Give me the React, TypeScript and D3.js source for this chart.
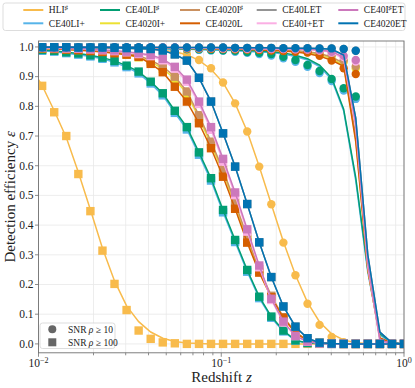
import React from 'react';
import * as d3 from 'd3';

// redshift grid of the simulated bins (markers)
const zGrid = [0.01047, 0.01219, 0.01419, 0.01652, 0.01923, 0.02239, 0.02606, 0.03034, 0.03532, 0.04111,
  0.04786, 0.05572, 0.06486, 0.07551, 0.0879, 0.1023, 0.1191, 0.1387, 0.1614, 0.1879,
  0.2188, 0.2547, 0.2965, 0.3451, 0.4018, 0.4677, 0.5445, 0.6339, 0.7379, 0.859, 1.0];
// fitted curves also start at the left edge
const zLine = [0.01, ...zGrid];

// HLI#
const hliSq = [0.869, 0.78, 0.70, 0.572, 0.447, 0.314, 0.202, 0.114, 0.045, 0.017, 0.005, 0.002,
  0, 0, 0, 0, 0, 0, 0, 0, 0, 0, 0, 0, 0, 0, 0, 0, 0, 0, 0];
const hliSqLine = [0.89, 0.87, 0.785, 0.695, 0.578, 0.452, 0.322, 0.212, 0.128, 0.075, 0.04, 0.019, 0.008,
  0.003, 0.001, 0, 0, 0, 0, 0, 0, 0, 0, 0, 0, 0, 0, 0, 0, 0, 0, 0];
const hliCi = [0.999, 0.999, 0.999, 0.998, 0.998, 0.998, 0.997, 0.996, 0.995, 0.993, 0.99, 0.985, 0.976,
  0.956, 0.928, 0.88, 0.81, 0.715, 0.597, 0.47, 0.341, 0.231, 0.135, 0.064, 0.023, 0.006, 0.001];
const hliCiLine = [0.999, 0.999, 0.999, 0.999, 0.998, 0.998, 0.998, 0.997, 0.996, 0.994, 0.992, 0.989, 0.984,
  0.974, 0.955, 0.925, 0.88, 0.81, 0.715, 0.597, 0.47, 0.344, 0.232, 0.14, 0.074, 0.034, 0.013, 0.004,
  0.001, 0, 0, 0];

// CE40LI+
const liPlusSq = [0.987, 0.984, 0.979, 0.974, 0.968, 0.96, 0.948, 0.932, 0.911, 0.877, 0.837, 0.778, 0.722,
  0.637, 0.55, 0.443, 0.343, 0.243, 0.154, 0.088, 0.042, 0.011, 0.003, 0.001, 0, 0, 0, 0, 0, 0, 0];
const liPlusCi = [0.997, 0.997, 0.997, 0.997, 0.996, 0.996, 0.996, 0.995, 0.995, 0.994, 0.994, 0.993, 0.992,
  0.99, 0.988, 0.987, 0.984, 0.98, 0.976, 0.971, 0.962, 0.95, 0.933, 0.912, 0.885, 0.853, 0.825];
const liPlusCiLine = [0.997, 0.997, 0.997, 0.997, 0.997, 0.996, 0.996, 0.996, 0.995, 0.995, 0.994, 0.994,
  0.993, 0.992, 0.991, 0.99, 0.989, 0.987, 0.985, 0.983, 0.981, 0.976, 0.968, 0.956, 0.934, 0.89, 0.784,
  0.55, 0.24, 0.03, 0.003, 0];

// CE40LI#
const liSharpSq = [0.99, 0.987, 0.982, 0.978, 0.972, 0.964, 0.953, 0.937, 0.917, 0.883, 0.844, 0.785, 0.73,
  0.645, 0.558, 0.451, 0.35, 0.249, 0.159, 0.092, 0.045, 0.012, 0.003, 0.001, 0, 0, 0, 0, 0, 0, 0];
const liSharpCi = [0.998, 0.998, 0.998, 0.998, 0.997, 0.997, 0.997, 0.996, 0.996, 0.995, 0.995, 0.994, 0.993,
  0.992, 0.99, 0.989, 0.987, 0.983, 0.98, 0.976, 0.967, 0.956, 0.939, 0.919, 0.892, 0.861, 0.833];
const liSharpCiLine = [0.998, 0.998, 0.998, 0.998, 0.998, 0.997, 0.997, 0.997, 0.996, 0.996, 0.995, 0.995,
  0.994, 0.993, 0.992, 0.991, 0.991, 0.99, 0.988, 0.986, 0.984, 0.98, 0.972, 0.96, 0.939, 0.896, 0.79,
  0.56, 0.25, 0.035, 0.004, 0];

// CE4020I+
const i20PlusSq = [0.995, 0.994, 0.992, 0.99, 0.988, 0.984, 0.98, 0.974, 0.965, 0.949, 0.927, 0.892, 0.842,
  0.762, 0.672, 0.577, 0.467, 0.353, 0.246, 0.157, 0.087, 0.038, 0.012, 0.003, 0.001, 0, 0, 0, 0, 0, 0];
const i20PlusCi = [0.998, 0.998, 0.998, 0.998, 0.998, 0.997, 0.997, 0.997, 0.997, 0.996, 0.996, 0.996, 0.995,
  0.995, 0.994, 0.994, 0.993, 0.992, 0.991, 0.99, 0.988, 0.986, 0.982, 0.976, 0.967, 0.949, 0.927];
const i20PlusCiLine = [0.998, 0.998, 0.998, 0.998, 0.998, 0.998, 0.997, 0.997, 0.997, 0.997, 0.996, 0.996,
  0.996, 0.995, 0.995, 0.994, 0.994, 0.993, 0.992, 0.991, 0.99, 0.988, 0.986, 0.981, 0.974, 0.961, 0.938,
  0.69, 0.25, 0.018, 0.002, 0];

// CE4020I#
const i20SharpSq = [0.996, 0.995, 0.994, 0.992, 0.99, 0.987, 0.983, 0.978, 0.97, 0.955, 0.934, 0.9, 0.85,
  0.77, 0.681, 0.586, 0.475, 0.36, 0.252, 0.162, 0.09, 0.04, 0.013, 0.003, 0.001, 0, 0, 0, 0, 0, 0];
const i20SharpCi = [0.999, 0.999, 0.999, 0.999, 0.999, 0.998, 0.998, 0.998, 0.998, 0.997, 0.997, 0.997, 0.996,
  0.996, 0.995, 0.995, 0.994, 0.993, 0.992, 0.991, 0.99, 0.988, 0.985, 0.98, 0.972, 0.955, 0.934];
const i20SharpCiLine = [0.999, 0.999, 0.999, 0.999, 0.999, 0.999, 0.998, 0.998, 0.998, 0.998, 0.997, 0.997,
  0.997, 0.996, 0.996, 0.995, 0.995, 0.994, 0.993, 0.992, 0.991, 0.99, 0.988, 0.984, 0.978, 0.966, 0.945,
  0.7, 0.26, 0.02, 0.002, 0];

// CE4020L
const lSq = [0.995, 0.993, 0.991, 0.989, 0.986, 0.983, 0.979, 0.974, 0.967, 0.943, 0.915, 0.866, 0.816,
  0.743, 0.659, 0.563, 0.455, 0.341, 0.24, 0.157, 0.088, 0.037, 0.011, 0.003, 0.001, 0, 0, 0, 0, 0, 0];
const lCi = [0.999, 0.999, 0.999, 0.998, 0.998, 0.998, 0.998, 0.997, 0.997, 0.997, 0.996, 0.996, 0.995,
  0.995, 0.994, 0.993, 0.992, 0.991, 0.99, 0.988, 0.986, 0.984, 0.981, 0.97, 0.954, 0.928, 0.909];
const lCiLine = [0.999, 0.999, 0.999, 0.999, 0.998, 0.998, 0.998, 0.998, 0.997, 0.997, 0.997, 0.996, 0.996,
  0.995, 0.995, 0.994, 0.993, 0.992, 0.991, 0.99, 0.988, 0.986, 0.983, 0.978, 0.969, 0.955, 0.935,
  0.68, 0.25, 0.02, 0.002, 0];

// CE4020ET (CE40LET sits right underneath it and cannot be told apart)
const etSq = [0.999, 0.999, 0.999, 0.998, 0.998, 0.998, 0.997, 0.996, 0.995, 0.993, 0.988, 0.975, 0.954,
  0.896, 0.816, 0.709, 0.597, 0.471, 0.342, 0.225, 0.126, 0.058, 0.019, 0.004, 0.001, 0, 0, 0, 0, 0, 0];
const etCi = [0.999, 0.999, 0.999, 0.999, 0.999, 0.999, 0.999, 0.999, 0.999, 0.999, 0.998, 0.998, 0.998,
  0.998, 0.998, 0.998, 0.997, 0.997, 0.997, 0.997, 0.996, 0.996, 0.996, 0.995, 0.995, 0.993, 0.987];
const etCiLine = [0.999, 0.999, 0.999, 0.999, 0.999, 0.999, 0.999, 0.999, 0.999, 0.999, 0.999, 0.998, 0.998,
  0.998, 0.998, 0.998, 0.998, 0.997, 0.997, 0.997, 0.997, 0.996, 0.996, 0.996, 0.995, 0.992, 0.973,
  0.76, 0.3, 0.04, 0.004, 0];

// CE40I+ET
const iPlusEtSq = [0.997, 0.996, 0.995, 0.994, 0.992, 0.989, 0.986, 0.982, 0.976, 0.969, 0.955, 0.927, 0.883,
  0.808, 0.721, 0.614, 0.501, 0.378, 0.258, 0.148, 0.072, 0.026, 0.007, 0.002, 0, 0, 0, 0, 0, 0, 0];
const iPlusEtCi = [0.998, 0.998, 0.998, 0.998, 0.998, 0.998, 0.998, 0.997, 0.997, 0.997, 0.997, 0.997, 0.996,
  0.996, 0.996, 0.995, 0.995, 0.994, 0.994, 0.993, 0.993, 0.992, 0.991, 0.988, 0.981, 0.966, 0.951];
const iPlusEtCiLine = [0.998, 0.998, 0.998, 0.998, 0.998, 0.998, 0.998, 0.998, 0.997, 0.997, 0.997, 0.997,
  0.997, 0.996, 0.996, 0.996, 0.995, 0.995, 0.994, 0.994, 0.993, 0.993, 0.992, 0.991, 0.988, 0.982, 0.96,
  0.73, 0.26, 0.01, 0.001, 0];

// CE40I#ET
const iSharpEtSq = [0.998, 0.997, 0.996, 0.995, 0.993, 0.99, 0.988, 0.984, 0.979, 0.973, 0.96, 0.933, 0.89,
  0.816, 0.73, 0.623, 0.51, 0.386, 0.264, 0.152, 0.075, 0.027, 0.008, 0.002, 0, 0, 0, 0, 0, 0, 0];
const iSharpEtCi = [0.999, 0.999, 0.999, 0.999, 0.999, 0.999, 0.999, 0.998, 0.998, 0.998, 0.998, 0.998, 0.997,
  0.997, 0.997, 0.996, 0.996, 0.995, 0.995, 0.994, 0.994, 0.993, 0.992, 0.99, 0.984, 0.97, 0.956];
const iSharpEtCiLine = [0.999, 0.999, 0.999, 0.999, 0.999, 0.999, 0.999, 0.999, 0.998, 0.998, 0.998, 0.998,
  0.998, 0.997, 0.997, 0.997, 0.996, 0.996, 0.995, 0.995, 0.994, 0.994, 0.993, 0.992, 0.99, 0.985, 0.965,
  0.74, 0.27, 0.012, 0.001, 0];

// legend order (column-major, 5 columns)
const networks = [
  { name: 'HLI', sup: '♯', tail: '', color: '#f8bb4c', sq: hliSq, sqLine: hliSqLine, ci: hliCi, ciLine: hliCiLine },
  { name: 'CE40LI+', sup: '', tail: '', color: '#56b4e9', sq: liPlusSq, sqLine: [0.988, ...liPlusSq], ci: liPlusCi, ciLine: liPlusCiLine },
  { name: 'CE40LI', sup: '♯', tail: '', color: '#029e73', sq: liSharpSq, sqLine: [0.991, ...liSharpSq], ci: liSharpCi, ciLine: liSharpCiLine },
  { name: 'CE4020I+', sup: '', tail: '', color: '#ece133', sq: i20PlusSq, sqLine: [0.996, ...i20PlusSq], ci: i20PlusCi, ciLine: i20PlusCiLine },
  { name: 'CE4020I', sup: '♯', tail: '', color: '#ca9161', sq: i20SharpSq, sqLine: [0.997, ...i20SharpSq], ci: i20SharpCi, ciLine: i20SharpCiLine },
  { name: 'CE4020L', sup: '', tail: '', color: '#d55e00', sq: lSq, sqLine: [0.996, ...lSq], ci: lCi, ciLine: lCiLine },
  { name: 'CE40LET', sup: '', tail: '', color: '#949494', sq: etSq, sqLine: [0.999, ...etSq], ci: etCi, ciLine: etCiLine },
  { name: 'CE40I+ET', sup: '', tail: '', color: '#fbafe4', sq: iPlusEtSq, sqLine: [0.998, ...iPlusEtSq], ci: iPlusEtCi, ciLine: iPlusEtCiLine },
  { name: 'CE40I', sup: '♯', tail: 'ET', color: '#cc78bc', sq: iSharpEtSq, sqLine: [0.999, ...iSharpEtSq], ci: iSharpEtCi, ciLine: iSharpEtCiLine },
  { name: 'CE4020ET', sup: '', tail: '', color: '#0173b2', sq: etSq, sqLine: [0.999, ...etSq], ci: etCi, ciLine: etCiLine },
];

const W = 415;
const H = 388;
const font = "'Liberation Serif', 'DejaVu Serif', serif";
const plot = { left: 38.5, right: 404, top: 41, bottom: 352.8 };

export default function App() {
  const x = d3.scaleLog().domain([0.01, 1]).range([plot.left, plot.right]);
  const y = d3.scaleLinear().domain([-0.03, 1.02]).range([plot.bottom, plot.top]);

  const xTicks = x.ticks();
  const xMajor = [0.01, 0.1, 1];
  const yTicks = y.ticks(10);

  const line = (zs: number[]) =>
    d3.line<number>().x((_, i) => x(zs[i])).y((d) => y(d));

  const legendLineX = [23.3, 100, 180, 256.7, 338.3];
  const legendRowY = [10, 23.3];
  const expLabel: Record<number, string> = { 0.01: '−2', 0.1: '−1', 1: '0' };

  return (
    <svg width={W} height={H} style={{ position: 'absolute', left: 0, top: 0, background: '#fff' }} fontFamily={font}>
      <defs>
        <clipPath id="plotClip">
          <rect x={plot.left} y={plot.top} width={plot.right - plot.left} height={plot.bottom - plot.top} />
        </clipPath>
      </defs>

      {/* grid */}
      <g stroke="#e8e8e8" strokeWidth={0.8}>
        {xTicks.map((t) => (
          <line key={'gx' + t} x1={x(t)} x2={x(t)} y1={plot.top} y2={plot.bottom} />
        ))}
        {yTicks.map((t) => (
          <line key={'gy' + t} x1={plot.left} x2={plot.right} y1={y(t)} y2={y(t)} />
        ))}
      </g>

      {/* data */}
      <g clipPath="url(#plotClip)">
        {networks.map((n) => (
          <g key={n.name + n.sup + n.tail}>
            {n.ci.map((v, i) => (
              <circle key={'c' + i} cx={x(zGrid[i])} cy={y(v)} r={4.2} fill={n.color} />
            ))}
            {n.sq.map((v, i) => (
              <rect key={'s' + i} x={x(zGrid[i]) - 4.2} y={y(v) - 4.2} width={8.4} height={8.4} fill={n.color} />
            ))}
            <path d={line(zLine)(n.ciLine) || ''} fill="none" stroke={n.color} strokeWidth={1.5} />
            <path d={line(zLine)(n.sqLine) || ''} fill="none" stroke={n.color} strokeWidth={1.5} />
          </g>
        ))}
      </g>

      {/* frame */}
      <rect x={plot.left} y={plot.top} width={plot.right - plot.left} height={plot.bottom - plot.top}
        fill="none" stroke="#707070" strokeWidth={0.9} />

      {/* y axis */}
      {yTicks.map((t) => (
        <g key={'yt' + t}>
          <line x1={plot.left - 3.5} x2={plot.left} y1={y(t)} y2={y(t)} stroke="#707070" strokeWidth={0.8} />
          <text x={plot.left - 5} y={y(t) + 3.8} fontSize={11.5} textAnchor="end" fill="#222">
            {d3.format('.1f')(t)}
          </text>
        </g>
      ))}

      {/* x axis */}
      {xTicks.map((t) => {
        const major = xMajor.some((m) => Math.abs(m - t) < 1e-9);
        return (
          <line key={'xt' + t} x1={x(t)} x2={x(t)} y1={plot.bottom} y2={plot.bottom + (major ? 4 : 2.5)}
            stroke="#707070" strokeWidth={0.8} />
        );
      })}
      {xMajor.map((t) => (
        <text key={'xl' + t} x={x(t)} y={367} fontSize={11.5} textAnchor="middle" fill="#222">
          10<tspan dy={-4.5} fontSize={8}>{expLabel[t]}</tspan>
        </text>
      ))}

      <text x={221.5} y={382} fontSize={15} textAnchor="middle" fill="#222">
        Redshift <tspan fontStyle="italic">z</tspan>
      </text>
      <text transform={`translate(15,${(plot.top + plot.bottom) / 2}) rotate(-90)`} fontSize={15}
        textAnchor="middle" fill="#222">
        Detection efficiency <tspan fontStyle="italic">ε</tspan>
      </text>

      {/* top legend */}
      <rect x={3} y={3} width={402} height={27.5} rx={2.5} fill="#fff" fillOpacity={0.8} stroke="#d4d4d4" strokeWidth={0.8} />
      {networks.map((n, k) => {
        const col = Math.floor(k / 2);
        const row = k % 2;
        const lx = legendLineX[col];
        const ly = legendRowY[row];
        return (
          <g key={'lg' + k}>
            <line x1={lx} x2={lx + 20} y1={ly} y2={ly} stroke={n.color} strokeWidth={2} />
            <text x={lx + 25.5} y={ly + 3.3} fontSize={9.5} fill="#222">
              {n.name}
              {n.sup && <tspan dy={-3.5} fontSize={6.5}>{n.sup}</tspan>}
              {n.tail && <tspan dy={3.5}>{n.tail}</tspan>}
            </text>
          </g>
        );
      })}

      {/* marker legend */}
      <rect x={40} y={323} width={75} height={25.5} rx={2.5} fill="#fff" fillOpacity={0.8} stroke="#d4d4d4" strokeWidth={0.8} />
      <circle cx={52.3} cy={329.3} r={4} fill="#666" />
      <rect x={48.3} y={338.3} width={8} height={8} fill="#666" />
      <text x={68} y={332.5} fontSize={9.5} fill="#222">
        SNR <tspan fontStyle="italic">ρ</tspan> ≥ 10
      </text>
      <text x={68} y={345.7} fontSize={9.5} fill="#222">
        SNR <tspan fontStyle="italic">ρ</tspan> ≥ 100
      </text>
    </svg>
  );
}
